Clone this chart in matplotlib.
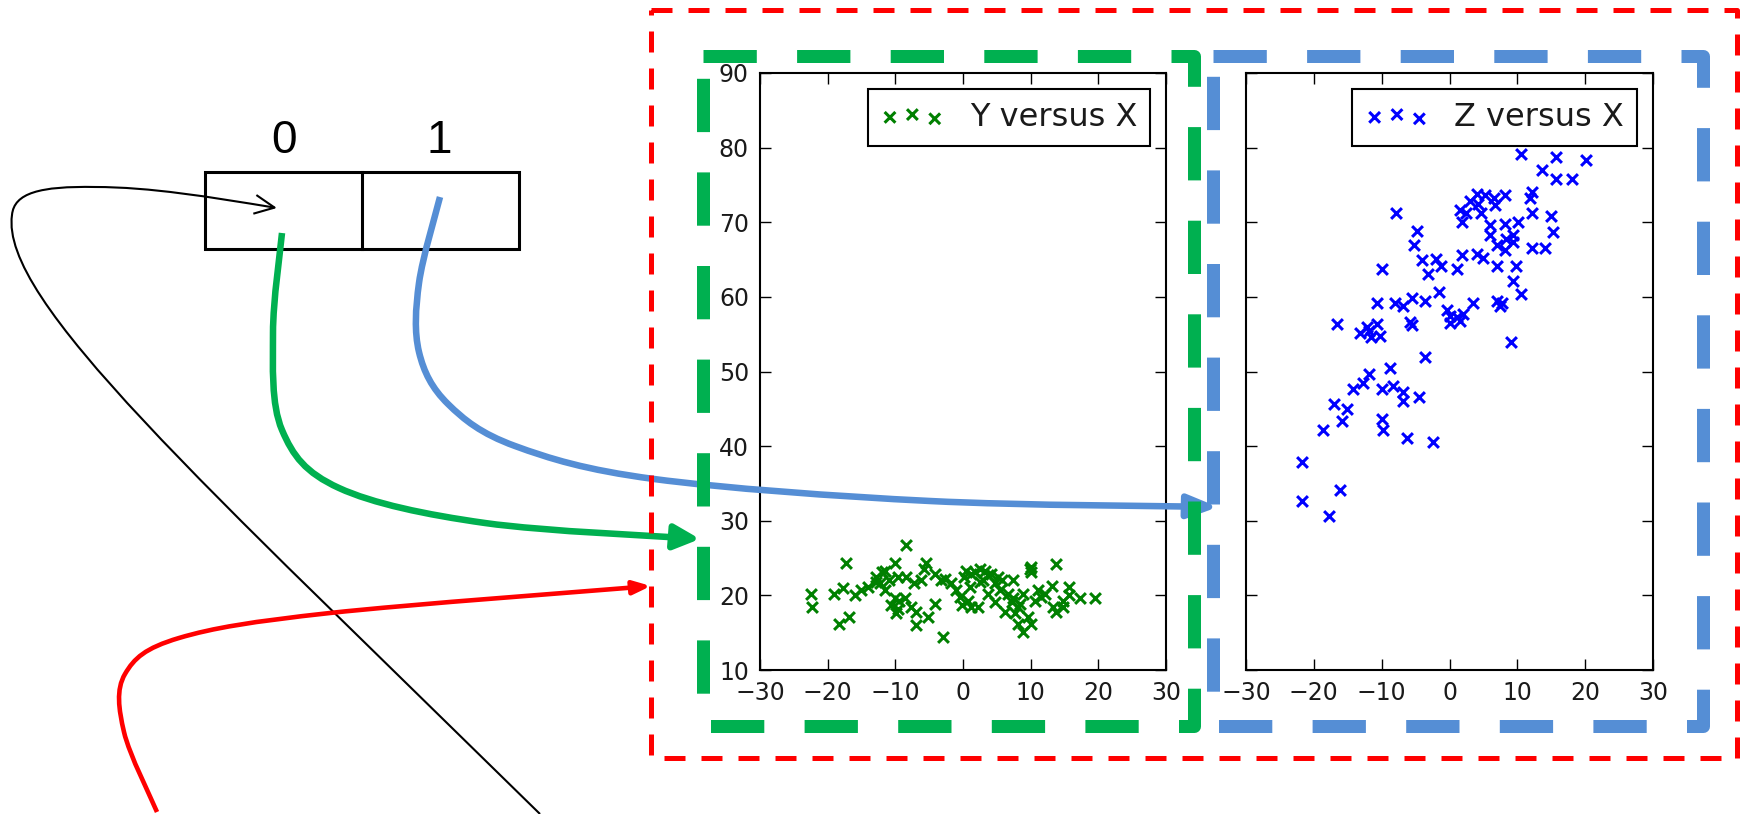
import numpy as np
import matplotlib
matplotlib.use('Agg')
import matplotlib.pyplot as plt
from matplotlib.path import Path
from matplotlib.patches import FancyArrowPatch, Rectangle, ArrowStyle

# Scatter data: Y versus X (left panel) and Z versus X (right panel)
x_y = [-22.5, -22.3, -17.3, -19.0, -17.8, -18.3, -16.8, -16.0, -15.1, -14.1,
       -12.8, -12.3, -11.9, -10.9, -11.6, -10.1, -9.6, -10.1, -10.6, -9.6,
       -9.9, -8.4, -8.4, -7.2, -7.7, -6.9, -6.9, -5.4, -5.7, -6.2,
       -5.2, -4.2, -4.2, -3.0, -2.7, -1.7, -1.0, -0.5, -0.2, 0.5,
       1.2, 1.0, 1.7, 2.5, 3.2, 2.2, 1.2, 3.0, 3.7, 4.2,
       3.7, 4.7, 5.4, 5.7, 6.7, 7.4, 6.2, 7.4, 7.7, 8.1,
       8.9, 8.9, 9.6, 9.9, 10.1, 10.1, 10.1, 11.1, 12.1, 13.1,
       13.8, 13.3, 13.8, 14.8, 15.6, 15.6, 17.3, 19.5, 8.1, 7.2,
       0.2, 0.7, -3.2, -11.6, -12.8, -8.6, -9.4, 11.6, 10.6, 5.2,
       4.7, 8.4, 2.5, 14.8]
y_vals = [20.2, 18.4, 24.4, 20.2, 21.0, 16.2, 17.1, 20.0, 20.7, 21.1,
          22.4, 21.6, 23.1, 22.0, 20.7, 24.4, 22.4, 19.6, 18.7, 18.2,
          17.6, 26.7, 22.4, 21.6, 18.4, 17.8, 16.0, 24.4, 23.6, 22.0,
          17.1, 22.9, 18.9, 14.4, 22.2, 21.6, 20.7, 19.8, 18.7, 23.3,
          22.9, 21.1, 23.1, 23.6, 23.3, 18.4, 18.4, 22.0, 22.7, 22.9,
          20.2, 21.6, 20.7, 22.0, 20.2, 22.0, 17.8, 19.6, 17.6, 18.4,
          20.2, 15.1, 17.1, 23.6, 23.8, 23.1, 16.2, 20.7, 20.2, 21.3,
          24.2, 18.4, 17.8, 18.4, 21.1, 20.0, 19.6, 19.6, 16.2, 19.1,
          22.4, 19.3, 22.0, 23.3, 21.8, 19.6, 19.3, 19.8, 19.3, 22.4,
          19.1, 18.9, 21.8, 19.3]

x_z = [10.5, 15.7, 20.1, 13.7, 15.7, 18.1, 12.1, 11.9, 12.1, 15.0,
       15.3, 14.1, 12.1, -7.9, -4.8, -5.2, -9.9, -4.0, -2.0, -1.3,
       -3.1, 1.1, 1.9, 4.0, 5.0, 7.0, 9.8, 9.4, 10.6, -1.6,
       3.5, 7.0, 7.7, 7.5, 9.0, -3.6, -5.6, -6.8, -8.0, -10.7,
       -5.8, -5.6, -0.4, 0.1, 1.1, 2.0, 0.1, 1.5, -16.6, -13.2,
       -12.2, -10.7, -11.5, -10.2, -11.8, -3.6, -11.9, -8.7, -12.7, -14.2,
       -10.0, -8.3, -6.8, -6.8, -4.5, -17.1, -15.1, -15.8, -18.6, -10.0,
       -9.8, -6.3, -2.4, -21.7, -21.7, -16.1, -17.8, 4.0, 5.2, 6.5,
       8.2, 3.0, 4.2, 6.7, 1.5, 2.5, 1.9, 4.7, 6.0, 8.2,
       10.1, 6.0, 7.0, 8.4, 9.3, 8.2, 9.3]
z_vals = [79.1, 78.8, 78.4, 77.0, 75.8, 75.8, 74.1, 73.2, 71.2, 70.9,
          68.7, 66.6, 66.6, 71.2, 68.8, 67.0, 63.7, 64.9, 65.1, 64.2,
          63.0, 63.7, 65.6, 65.7, 65.2, 64.1, 64.2, 62.1, 60.4, 60.7,
          59.2, 59.4, 59.2, 58.8, 54.0, 59.5, 59.8, 58.8, 59.2, 59.2,
          56.6, 56.2, 58.2, 57.5, 57.3, 57.7, 56.5, 56.8, 56.4, 55.2,
          55.9, 56.3, 54.6, 54.8, 55.4, 51.9, 49.7, 50.5, 48.4, 47.6,
          47.6, 48.1, 47.3, 46.1, 46.6, 45.6, 45.0, 43.3, 42.2, 43.7,
          42.2, 41.1, 40.5, 37.9, 32.6, 34.1, 30.7, 73.8, 73.6, 73.2,
          73.6, 72.9, 72.5, 72.3, 71.6, 71.2, 70.1, 71.2, 69.6, 69.8,
          70.0, 68.3, 66.9, 67.8, 67.4, 66.3, 68.3]

x_ticks = [-30, -20, -10, 0, 10, 20, 30]
y_ticks = [10, 20, 30, 40, 50, 60, 70, 80, 90]
cell_labels = ['0', '1']

W, H = 1747, 814
fig = plt.figure(figsize=(W / 100, H / 100), dpi=100)


def px_axes(x0, y0, x1, y1):
    # axes placed by pixel box (origin top-left)
    return fig.add_axes([x0 / W, 1 - y1 / H, (x1 - x0) / W, (y1 - y0) / H])


ax1 = px_axes(760, 73, 1166, 670)
ax2 = px_axes(1246, 73, 1653, 670)

for ax in (ax1, ax2):
    ax.set_xlim(-30, 30)
    ax.set_ylim(10, 90)
    ax.set_xticks(x_ticks)
    ax.set_yticks(y_ticks)
    ax.tick_params(direction='in', length=8, width=1, top=True, right=True,
                   labelsize=17, pad=8, labelcolor='#1a1a1a')
    for s in ax.spines.values():
        s.set_linewidth(1.5)
ax2.tick_params(labelleft=False)

ax1.scatter(x_y, y_vals, marker='x', c='#008000', s=60, linewidths=2.2, label='Y versus X')
ax2.scatter(x_z, z_vals, marker='x', c='#0000ff', s=60, linewidths=2.2, label='Z versus X')

for ax in (ax1, ax2):
    leg = ax.legend(loc='upper right', scatterpoints=3, scatteryoffsets=[0.375, 0.5, 0.3125],
                    fontsize=23, fancybox=False, edgecolor='black', framealpha=1,
                    borderpad=0.4, handlelength=2.0, handletextpad=0.8, borderaxespad=0.5)
    leg.get_frame().set_linewidth(1.5)
    for t in leg.get_texts():
        t.set_color('#1a1a1a')

# overlay in pixel coordinates for the boxes and arrows
ov = fig.add_axes([0, 0, 1, 1])
ov.set_xlim(0, W)
ov.set_ylim(H, 0)
ov.axis('off')


def dashed_box(x0, y0, x1, y1, color, lw_px, on, off):
    ov.plot([x0, x1, x1, x0, x0], [y0, y0, y1, y1, y0], color=color, lw=lw_px * 0.72,
            linestyle=(0, (on, off)), dash_capstyle='butt', dash_joinstyle='round')


dashed_box(651, 10, 1737, 758, '#ff0000', 5, 4.2, 3.2)
dashed_box(703, 56, 1194, 726, '#00b050', 13, 4.1, 3.1)
dashed_box(1213, 56, 1703, 726, '#558ed5', 13, 4.1, 3.1)

# the two-cell list
ov.add_patch(Rectangle((205, 172), 314, 77, fill=False, lw=2.2, ec='black'))
ov.plot([362.5, 362.5], [172, 249], color='black', lw=2.2)
for lab, cx in zip(cell_labels, [284, 439]):
    ov.text(cx, 153, lab, ha='center', va='baseline', fontsize=33,
            family='Liberation Sans', color='black')


def add_arrow(verts, codes, color, lw_pt, style, hl, hw):
    arr = FancyArrowPatch(path=Path(verts, codes),
                          arrowstyle=ArrowStyle(style, head_length=hl, head_width=hw),
                          mutation_scale=1, lw=lw_pt, color=color, capstyle='butt')
    ov.add_patch(arr)


def smooth_path(pts):
    # Catmull-Rom through the guide points, written as cubic Bezier pieces
    p = np.asarray(pts, dtype=float)
    p = np.vstack([p[0], p, p[-1]])
    verts = [p[1]]
    for i in range(1, len(p) - 2):
        c1 = p[i] + (p[i + 1] - p[i - 1]) / 6
        c2 = p[i + 1] - (p[i + 2] - p[i]) / 6
        verts += [c1, c2, p[i + 1]]
    codes = [Path.MOVETO] + [Path.CURVE4] * (len(verts) - 1)
    return np.array(verts), codes


black = [(540, 814), (200, 480), (0, 300), (12, 215),
         (14, 193), (40, 186), (95, 187),
         (150, 187), (210, 197), (277, 208)]
add_arrow(black, [Path.MOVETO] + [Path.CURVE4] * 9, 'black', 1.5, '->', 14.4, 6.8)

green = [(282, 233), (273, 333), (282, 430), (339, 488), (485, 523), (700, 539)]
blue = [(440, 197), (419, 283), (419, 352), (448, 404), (515, 446), (654, 479),
        (930, 501), (1218, 507)]
red = [(157, 812), (124, 732), (125, 674), (179, 638), (330, 613), (651, 586)]

v, c = smooth_path(green)
add_arrow(v, c, '#00b050', 4.7, '-|>', 15.5, 7.5)
v, c = smooth_path(blue)
add_arrow(v, c, '#558ed5', 4.7, '-|>', 18.0, 7.0)
v, c = smooth_path(red)
add_arrow(v, c, '#ff0000', 3.3, '-|>', 10.5, 4.0)

fig.savefig('out.png', dpi=100)
